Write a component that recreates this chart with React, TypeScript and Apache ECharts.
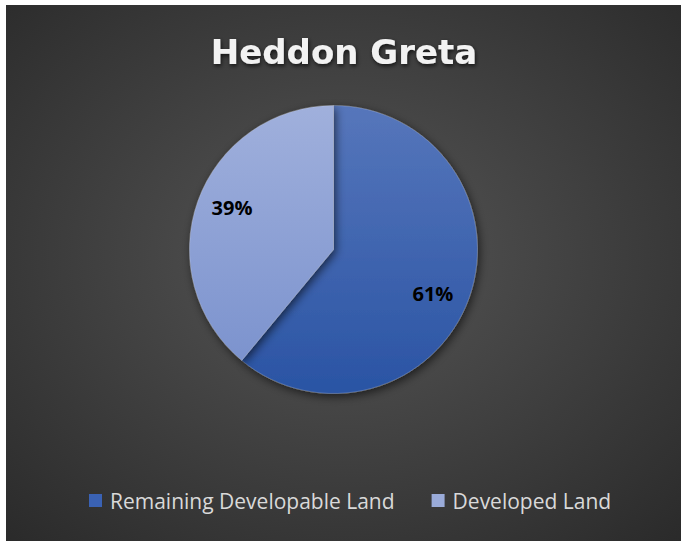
import React, { useEffect, useRef } from "react";
import * as echarts from "echarts";

const titleText = "Heddon Greta";
const categories = ["Remaining Developable Land", "Developed Land"];
const values = [61, 39];
const sliceTop = ["#5676bb", "#a0b0dc"];
const sliceBottom = ["#2a54a4", "#7c93ce"];
const legendColors = ["#3a62b4", "#9aabd9"];

export default function App() {
  const ref = useRef<HTMLDivElement>(null);
  useEffect(() => {
    const chart = echarts.init(ref.current!, null, { renderer: "svg" });
    const labelOffsets = [
      [-5, 6],
      [3, -4],
    ];
    const data = categories.map((name, i) => ({
      name,
      value: values[i],
      itemStyle: {
        color: new echarts.graphic.LinearGradient(0, 0, 0, 1, [
          { offset: 0, color: sliceTop[i] },
          { offset: 1, color: sliceBottom[i] },
        ]),
      },
    }));
    const labelData = categories.map((name, i) => ({
      name,
      value: values[i],
      label: { offset: labelOffsets[i] },
    }));
    chart.setOption({
      animation: false,
      graphic: [
        {
          type: "rect",
          z: -10,
          silent: true,
          shape: { x: 6, y: 5, width: 675, height: 536 },
          style: {
            fill: new echarts.graphic.RadialGradient(0.5, 0.47, 0.8, [
              { offset: 0, color: "#565656" },
              { offset: 1, color: "#262626" },
            ]),
          },
        },
        {
          type: "text",
          left: "center",
          top: 35,
          style: {
            text: titleText,
            fill: "#f2f2f2",
            font: "bold 34px 'DejaVu Sans'",
            textShadowColor: "rgba(0,0,0,0.7)",
            textShadowBlur: 4,
            textShadowOffsetX: 1,
            textShadowOffsetY: 2,
          },
        },
      ],
      legend: {
        left: 89,
        top: 490,
        padding: 0,
        itemWidth: 13,
        itemHeight: 13,
        itemGap: 37,
        icon: "rect",
        itemStyle: { borderWidth: 0, shadowBlur: 0 },
        data: categories.map((name, i) => ({
          name,
          itemStyle: { color: legendColors[i], borderWidth: 0 },
        })),
        textStyle: {
          color: "#d9d9d9",
          fontFamily: "Open Sans",
          fontSize: 21,
          padding: [0, 0, 0, 3],
        },
      },
      series: [
        {
          type: "pie",
          center: [333.5, 249.5],
          radius: [0, 144],
          startAngle: 90,
          clockwise: true,
          label: { show: false },
          labelLine: { show: false },
          emphasis: { disabled: true },
          itemStyle: {
            borderColor: "rgba(255,255,255,0.35)",
            borderWidth: 0.6,
            shadowBlur: 10,
            shadowColor: "rgba(0,0,0,0.6)",
            shadowOffsetX: 2,
            shadowOffsetY: 3,
          },
          data,
        },
        {
          type: "pie",
          center: [333.5, 249.5],
          radius: [72, 144],
          startAngle: 90,
          clockwise: true,
          silent: true,
          legendHoverLink: false,
          percentPrecision: 0,
          itemStyle: { color: "rgba(0,0,0,0)" },
          label: {
            show: true,
            position: "inside",
            formatter: "{d}%",
            color: "#000000",
            fontFamily: "Open Sans",
            fontWeight: "bold",
            fontSize: 20,
          },
          labelLine: { show: false },
          emphasis: { disabled: true },
          data: labelData,
        },
      ],
    });
    return () => chart.dispose();
  }, []);
  return (
    <div
      ref={ref}
      style={{
        position: "fixed",
        left: 0,
        top: 0,
        width: 688,
        height: 541,
        background: "#ffffff",
      }}
    />
  );
}
